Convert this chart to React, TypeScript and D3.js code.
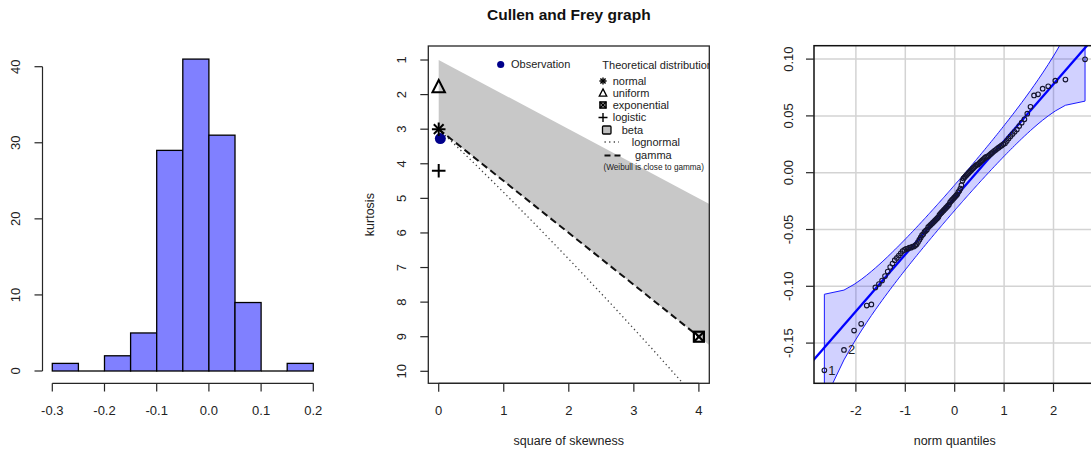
import React from "react";
import * as d3 from "d3";

// ---------------- Data ----------------
// Histogram (left panel)
const HIST_BIN_STARTS = [-0.3, -0.25, -0.2, -0.15, -0.1, -0.05, 0.0, 0.05, 0.1, 0.15];
const HIST_BIN_WIDTH = 0.05;
const HIST_COUNTS = [1, 0, 2, 5, 29, 41, 31, 9, 0, 1];
const HIST_X_TICKS = [-0.3, -0.2, -0.1, 0.0, 0.1, 0.2];
const HIST_Y_TICKS = [0, 10, 20, 30, 40];

// Cullen and Frey graph (middle panel)
const CF_X_TICKS = [0, 1, 2, 3, 4];
const CF_Y_TICKS = [1, 2, 3, 4, 5, 6, 7, 8, 9, 10];
const CF_OBSERVATION: [number, number] = [0.025, 3.27];
const CF_NORMAL: [number, number] = [0, 3];
const CF_UNIFORM: [number, number] = [0, 1.8];
const CF_LOGISTIC: [number, number] = [0, 4.2];
const CF_EXPONENTIAL: [number, number] = [4, 9];
const CF_BETA_UPPER: [number, number][] = [[0, 1], [4.16, 5.16]];
const CF_BETA_LOWER: [number, number][] = [[0, 3], [4.16, 9.24]];
const CF_GAMMA_LINE: [number, number][] = [[0, 3], [4, 9]];
const CF_LOGNORMAL_LINE: [number, number][] = [
  [0, 3], [0.465, 3.838], [0.961, 4.756], [1.488, 5.758], [2.048, 6.85],
  [2.641, 8.035], [3.267, 9.32], [3.927, 10.71],
];
const CF_LEGEND_DISTS = ["normal", "uniform", "exponential", "logistic", "beta", "lognormal", "gamma"];

// QQ plot (right panel): sorted sample values
const QQ_SAMPLE = [
  -0.174, -0.156, -0.139, -0.133, -0.117, -0.116, -0.101, -0.098, -0.095, -0.091,
  -0.087, -0.083, -0.080, -0.077, -0.075, -0.073, -0.071, -0.069, -0.068, -0.067,
  -0.067, -0.066, -0.066, -0.065, -0.065, -0.064, -0.063, -0.061, -0.059, -0.057,
  -0.055, -0.054, -0.052, -0.051, -0.050, -0.048, -0.047, -0.046, -0.045, -0.044,
  -0.043, -0.042, -0.041, -0.040, -0.039, -0.037, -0.036, -0.035, -0.034, -0.033,
  -0.032, -0.031, -0.030, -0.029, -0.028, -0.026, -0.025, -0.024, -0.023, -0.022,
  -0.021, -0.020, -0.019, -0.017, -0.016, -0.014, -0.011, -0.007, -0.005, -0.004,
  -0.003, -0.002, -0.001, 0.000, 0.001, 0.002, 0.003, 0.004, 0.005, 0.006,
  0.007, 0.007, 0.008, 0.009, 0.010, 0.011, 0.012, 0.013, 0.014, 0.014,
  0.015, 0.016, 0.017, 0.018, 0.019, 0.020, 0.021, 0.022, 0.023, 0.024,
  0.025, 0.026, 0.028, 0.030, 0.032, 0.034, 0.036, 0.038, 0.041, 0.044,
  0.047, 0.052, 0.058, 0.068, 0.069, 0.074, 0.076, 0.081, 0.082, 0.0998,
];
const QQ_LINE_INTERCEPT = -0.022;
const QQ_LINE_SLOPE = 0.05;
const QQ_X_TICKS = [-2, -1, 0, 1, 2];
const QQ_Y_TICKS = [-0.15, -0.1, -0.05, 0.0, 0.05, 0.1];
const QQ_Y_LABELS = ["-0.15", "-0.10", "-0.05", "0.00", "0.05", "0.10"];

// ---------------- helpers ----------------
function qnorm(p: number): number {
  const a = [-3.969683028665376e1, 2.209460984245205e2, -2.759285104469687e2, 1.38357751867269e2, -3.066479806614716e1, 2.506628277459239];
  const b = [-5.447609879822406e1, 1.615858368580409e2, -1.556989798598866e2, 6.680131188771972e1, -1.328068155288572e1];
  const c = [-7.784894002430293e-3, -3.223964580411365e-1, -2.400758277161838, -2.549671010638305, 4.374664141464968, 2.938163982698783];
  const d = [7.784695709041462e-3, 3.224671290700398e-1, 2.445134137142996, 3.754408661907416];
  const pl = 0.02425;
  if (p < pl) {
    const q = Math.sqrt(-2 * Math.log(p));
    return (((((c[0] * q + c[1]) * q + c[2]) * q + c[3]) * q + c[4]) * q + c[5]) / ((((d[0] * q + d[1]) * q + d[2]) * q + d[3]) * q + 1);
  }
  if (p <= 1 - pl) {
    const q = p - 0.5, r = q * q;
    return ((((((a[0] * r + a[1]) * r + a[2]) * r + a[3]) * r + a[4]) * r + a[5]) * q) / (((((b[0] * r + b[1]) * r + b[2]) * r + b[3]) * r + b[4]) * r + 1);
  }
  const q = Math.sqrt(-2 * Math.log(1 - p));
  return -(((((c[0] * q + c[1]) * q + c[2]) * q + c[3]) * q + c[4]) * q + c[5]) / ((((d[0] * q + d[1]) * q + d[2]) * q + d[3]) * q + 1);
}
const dnorm = (z: number) => Math.exp(-z * z / 2) / Math.sqrt(2 * Math.PI);

const FONT = "'Liberation Sans', Arial, Helvetica, sans-serif";
const AX = "#262626";

function RotLabel({ x, y, text, size = 13 }: { x: number; y: number; text: string; size?: number }) {
  return (
    <text x={0} y={0} transform={`translate(${x},${y}) rotate(-90)`} textAnchor="middle" dy="0.35em" fontSize={size} fill="#222">
      {text}
    </text>
  );
}

export default function App() {
  // ---------- Histogram ----------
  const hx = d3.scaleLinear().domain([-0.3, 0.2]).range([52.3, 313.3]);
  const hy = d3.scaleLinear().domain([0, 40]).range([371, 66.7]);

  // ---------- Cullen-Frey ----------
  const cfL = 428.3, cfR = 709.3, cfT = 46, cfB = 383.3;
  const cx = d3.scaleLinear().domain([-0.16, 4.16]).range([cfL, cfR]);
  const cy = d3.scaleLinear().domain([0.595, 10.347]).range([cfT, cfB]);
  const cfLine = d3.line<[number, number]>().x((d) => cx(d[0])).y((d) => cy(d[1]));
  const betaPoly: [number, number][] = [...CF_BETA_UPPER, ...CF_BETA_LOWER.slice().reverse()];

  // ---------- QQ ----------
  const qL = 814, qR = 1095.4, qT = 45.7, qB = 383.3;
  const qx = d3.scaleLinear().domain([-2.848, 2.848]).range([qL, qR]);
  const qy = d3.scaleLinear().domain([-0.1854, 0.1118]).range([qB, qT]);
  const n = QQ_SAMPLE.length;
  const P = QQ_SAMPLE.map((_, i) => (i + 1 - 0.5) / n);
  const Z = P.map(qnorm);
  const fit = Z.map((z) => QQ_LINE_INTERCEPT + QQ_LINE_SLOPE * z);
  const se = Z.map((z, i) => (QQ_LINE_SLOPE / dnorm(z)) * Math.sqrt((P[i] * (1 - P[i])) / n));
  const upper = fit.map((f, i) => f + 1.96 * se[i]);
  const lower = fit.map((f, i) => f - 1.96 * se[i]);
  const envPts: [number, number][] = [
    ...Z.map((z, i) => [z, upper[i]] as [number, number]),
    ...Z.map((z, i) => [z, lower[i]] as [number, number]).reverse(),
  ];
  const qLine = d3.line<[number, number]>().x((d) => qx(d[0])).y((d) => qy(d[1]));
  const lineEnds: [number, number][] = [-3, 3].map((z) => [z, QQ_LINE_INTERCEPT + QQ_LINE_SLOPE * z]);

  const legendY = [81, 93, 105, 117.5, 130, 142, 155.5];

  const star = (x: number, y: number, r: number, w: number) => (
    <g stroke="#000" strokeWidth={w}>
      <line x1={x - r} y1={y} x2={x + r} y2={y} />
      <line x1={x} y1={y - r} x2={x} y2={y + r} />
      <line x1={x - r * 0.72} y1={y - r * 0.72} x2={x + r * 0.72} y2={y + r * 0.72} />
      <line x1={x - r * 0.72} y1={y + r * 0.72} x2={x + r * 0.72} y2={y - r * 0.72} />
    </g>
  );
  const tri = (x: number, y: number, s: number, w: number) => (
    <path d={`M${x},${y - s * 0.62}L${x + s / 2},${y + s * 0.36}L${x - s / 2},${y + s * 0.36}Z`} fill="none" stroke="#000" strokeWidth={w} />
  );
  const plus = (x: number, y: number, r: number, w: number) => (
    <g stroke="#000" strokeWidth={w}>
      <line x1={x - r} y1={y} x2={x + r} y2={y} />
      <line x1={x} y1={y - r} x2={x} y2={y + r} />
    </g>
  );
  const sqx = (x: number, y: number, s: number, w: number) => (
    <g stroke="#000" strokeWidth={w} fill="none">
      <rect x={x - s / 2} y={y - s / 2} width={s} height={s} />
      <line x1={x - s / 2} y1={y - s / 2} x2={x + s / 2} y2={y + s / 2} />
      <line x1={x - s / 2} y1={y + s / 2} x2={x + s / 2} y2={y - s / 2} />
    </g>
  );

  return (
    <svg width={1091} height={457} style={{ position: "absolute", left: 0, top: 0, background: "#fff" }} fontFamily={FONT}>
      <defs>
        <clipPath id="cfclip"><rect x={cfL} y={cfT} width={cfR - cfL} height={cfB - cfT} /></clipPath>
        <clipPath id="qqclip"><rect x={qL} y={qT} width={qR - qL} height={qB - qT} /></clipPath>
      </defs>
      <rect x={0} y={0} width={1091} height={457} fill="#fff" />

      {/* ---------------- Histogram ---------------- */}
      <g>
        {HIST_BIN_STARTS.map((b, i) =>
          HIST_COUNTS[i] > 0 ? (
            <rect key={i} x={hx(b)} y={hy(HIST_COUNTS[i])} width={hx(b + HIST_BIN_WIDTH) - hx(b)} height={hy(0) - hy(HIST_COUNTS[i])}
              fill="#8080FF" stroke="#000" strokeWidth={1.3} />
          ) : (
            <line key={i} x1={hx(b)} x2={hx(b + HIST_BIN_WIDTH)} y1={hy(0)} y2={hy(0)} stroke="#000" strokeWidth={1.3} />
          )
        )}
        <line x1={hx(-0.3)} x2={hx(0.2)} y1={383.3} y2={383.3} stroke={AX} strokeWidth={1.2} />
        {HIST_X_TICKS.map((t) => (
          <g key={t}>
            <line x1={hx(t)} x2={hx(t)} y1={383.3} y2={391.5} stroke={AX} strokeWidth={1.2} />
            <text x={hx(t)} y={415} textAnchor="middle" fontSize={13} fill="#222">{t.toFixed(1)}</text>
          </g>
        ))}
        <line x1={42.5} x2={42.5} y1={hy(0)} y2={hy(40)} stroke={AX} strokeWidth={1.2} />
        {HIST_Y_TICKS.map((t) => (
          <g key={t}>
            <line x1={34.5} x2={42.5} y1={hy(t)} y2={hy(t)} stroke={AX} strokeWidth={1.2} />
            <RotLabel x={15.5} y={hy(t)} text={String(t)} />
          </g>
        ))}
      </g>

      {/* ---------------- Cullen and Frey ---------------- */}
      <text x={(cfL + cfR) / 2} y={19.5} textAnchor="middle" fontSize={15.5} fontWeight="bold" fill="#111">Cullen and Frey graph</text>
      <g clipPath="url(#cfclip)">
        <path d={cfLine(betaPoly) + "Z"} fill="#C8C8C8" stroke="none" />
        <path d={cfLine(CF_LOGNORMAL_LINE) || ""} fill="none" stroke="#444" strokeWidth={1.3} strokeDasharray="1.3,3" />
        <path d={cfLine(CF_GAMMA_LINE) || ""} fill="none" stroke="#111" strokeWidth={2} strokeDasharray="7,4" />
        <circle cx={cx(CF_OBSERVATION[0])} cy={cy(CF_OBSERVATION[1])} r={5.5} fill="#00008B" />
        {star(cx(CF_NORMAL[0]), cy(CF_NORMAL[1]), 6.8, 2)}
        {tri(cx(CF_UNIFORM[0]), cy(CF_UNIFORM[1]), 12.5, 2)}
        {plus(cx(CF_LOGISTIC[0]), cy(CF_LOGISTIC[1]), 6.8, 2)}
        {sqx(cx(CF_EXPONENTIAL[0]), cy(CF_EXPONENTIAL[1]), 10, 2.2)}

        {/* legend */}
        <circle cx={500.7} cy={64.5} r={3.6} fill="#00008B" />
        <text x={511} y={64.5} dy="0.35em" fontSize={11} fill="#222">Observation</text>
        <text x={602.3} y={65} dy="0.35em" fontSize={11} fill="#222">Theoretical distributions</text>
        {star(603, legendY[0], 3.6, 1.4)}
        {tri(603, legendY[1] + 0.5, 7.5, 1.3)}
        {sqx(603, legendY[2], 6, 1.6)}
        {plus(603, legendY[3], 4.5, 1.4)}
        <rect x={602.5} y={legendY[4] - 4} width={8.5} height={8} rx={1} fill="#BEBEBE" stroke="#000" strokeWidth={1.3} />
        <line x1={604.5} x2={619} y1={legendY[5]} y2={legendY[5]} stroke="#444" strokeWidth={1.3} strokeDasharray="1.3,3.3" />
        <line x1={604.5} x2={623} y1={legendY[6]} y2={legendY[6]} stroke="#111" strokeWidth={2} strokeDasharray="6,4" />
        {CF_LEGEND_DISTS.map((name, i) => (
          <text key={name} x={i === 4 ? 621.7 : i === 5 ? 631.7 : i === 6 ? 635 : 612.7} y={legendY[i]} dy="0.35em" fontSize={11} fill="#222">{name}</text>
        ))}
        <text x={603.5} y={167.3} dy="0.35em" fontSize={8.2} fill="#222">(Weibull is close to gamma)</text>
      </g>
      <rect x={cfL} y={cfT} width={cfR - cfL} height={cfB - cfT} fill="none" stroke={AX} strokeWidth={1.3} />
      <line x1={cx(0)} x2={cx(4)} y1={cfB} y2={cfB} stroke={AX} strokeWidth={1.2} />
      {CF_X_TICKS.map((t) => (
        <g key={t}>
          <line x1={cx(t)} x2={cx(t)} y1={cfB} y2={cfB + 8.5} stroke={AX} strokeWidth={1.2} />
          <text x={cx(t)} y={415} textAnchor="middle" fontSize={13} fill="#222">{t}</text>
        </g>
      ))}
      {CF_Y_TICKS.map((t) => (
        <g key={t}>
          <line x1={cfL - 8} x2={cfL} y1={cy(t)} y2={cy(t)} stroke={AX} strokeWidth={1.2} />
          <RotLabel x={401.7} y={cy(t)} text={String(t)} />
        </g>
      ))}
      <RotLabel x={370} y={(cfT + cfB) / 2} text="kurtosis" size={12.5} />
      <text x={(cfL + cfR) / 2} y={441} dy="0.35em" textAnchor="middle" fontSize={12.5} fill="#222">square of skewness</text>

      {/* ---------------- QQ plot ---------------- */}
      <g clipPath="url(#qqclip)">
        {QQ_X_TICKS.map((t) => (
          <line key={"gx" + t} x1={qx(t)} x2={qx(t)} y1={qT} y2={qB} stroke="#D3D3D3" strokeWidth={1.5} />
        ))}
        {QQ_Y_TICKS.map((t) => (
          <line key={"gy" + t} x1={qL} x2={qR} y1={qy(t)} y2={qy(t)} stroke="#D3D3D3" strokeWidth={1.5} />
        ))}
        <path d={qLine(envPts) + "Z"} fill="rgba(0,0,255,0.18)" stroke="#1a1aff" strokeWidth={1} />
        <path d={qLine(lineEnds) || ""} stroke="#0000FF" strokeWidth={2.3} fill="none" />
        {QQ_SAMPLE.map((v, i) => (
          <circle key={i} cx={qx(Z[i])} cy={qy(v)} r={2.3} fill="none" stroke="#151530" strokeWidth={1.1} />
        ))}
        <text x={qx(Z[0]) + 4} y={qy(QQ_SAMPLE[0])} dy="0.35em" fontSize={13} fill="#222">1</text>
        <text x={qx(Z[1]) + 4} y={qy(QQ_SAMPLE[1])} dy="0.35em" fontSize={13} fill="#222">2</text>
      </g>
      <rect x={qL} y={qT} width={qR - qL} height={qB - qT} fill="none" stroke="#111" strokeWidth={1.5} />
      {QQ_X_TICKS.map((t) => (
        <g key={t}>
          <line x1={qx(t)} x2={qx(t)} y1={qB} y2={qB + 8.5} stroke={AX} strokeWidth={1.2} />
          <text x={qx(t)} y={415} textAnchor="middle" fontSize={13} fill="#222">{t}</text>
        </g>
      ))}
      {QQ_Y_TICKS.map((t, i) => (
        <g key={t}>
          <line x1={qL - 8} x2={qL} y1={qy(t)} y2={qy(t)} stroke={AX} strokeWidth={1.2} />
          <RotLabel x={788} y={qy(t)} text={QQ_Y_LABELS[i]} />
        </g>
      ))}
      <text x={qx(0)} y={441} dy="0.35em" textAnchor="middle" fontSize={12.5} fill="#222">norm quantiles</text>
    </svg>
  );
}
